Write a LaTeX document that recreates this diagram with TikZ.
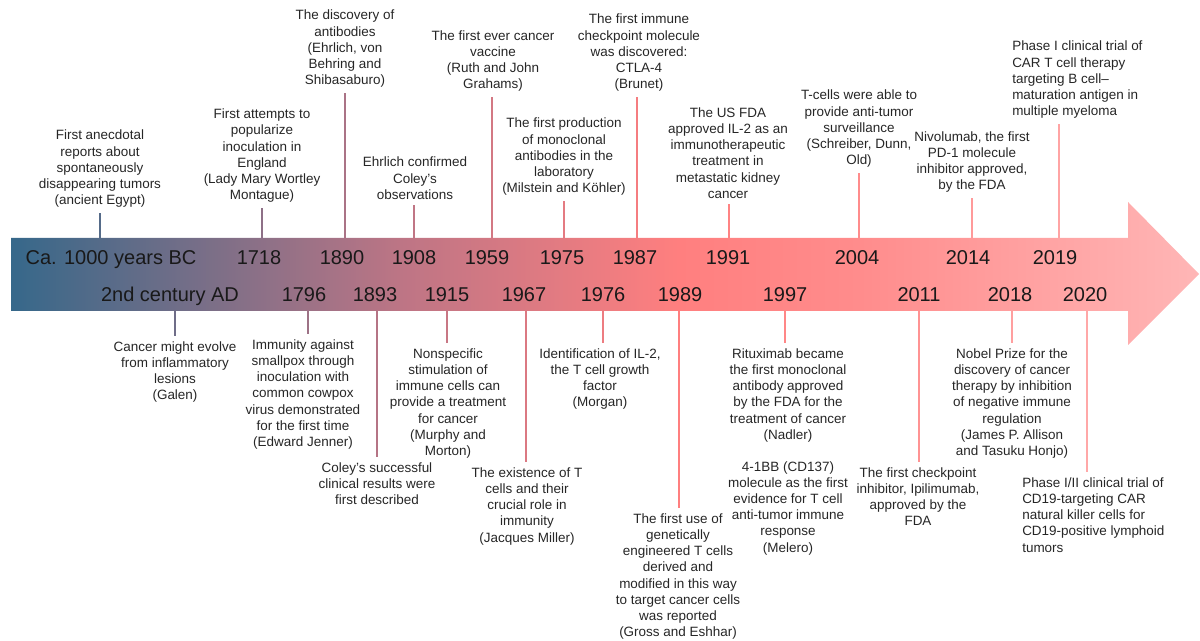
\documentclass[tikz,border=0pt]{standalone}
\usepackage{fontspec}
\setmainfont{Liberation Sans}
\usetikzlibrary{positioning}

\definecolor{tlA}{HTML}{36688A}
\definecolor{tlB}{HTML}{BD7585}
\definecolor{tlC}{HTML}{FF7F7F}
\definecolor{tlD}{HTML}{FF8C8C}
\definecolor{tlE}{HTML}{FFB6B6}
\pgfdeclarehorizontalshading{timeshade}{100bp}{color(0bp)=(tlA); color(25bp)=(tlA); color(41.4bp)=(tlB); color(53.1bp)=(tlC); color(60.7bp)=(tlD); color(75bp)=(tlE); color(100bp)=(tlE)}

\begin{document}
\begin{tikzpicture}[x=0.75pt, y=-0.75pt,
    ev/.style={align=center, font=\fontsize{10.1}{12.15}\selectfont, text=black!85, inner xsep=0pt, inner ysep=4pt},
    yr/.style={font=\fontsize{15}{18}\selectfont, text=black!90, inner sep=0pt, anchor=base},
    tick/.style={line width=2pt}]
            \useasboundingbox (0,0) rectangle (1200,641);

            % the time arrow
            \path[shading=timeshade] (11,238) -- (1128,238) -- (1128,202) -- (1199,274) -- (1128,345) -- (1128,311) -- (11,311) -- cycle;

            % years, upper row
            \node[yr] (yBC) at (111,265) {Ca. 1000 years BC};
            \node[yr] (y1718) at (259,265) {1718};
            \node[yr] (y1890) at (342,265) {1890};
            \node[yr] (y1908) at (414,265) {1908};
            \node[yr] (y1959) at (487,265) {1959};
            \node[yr] (y1975) at (562,265) {1975};
            \node[yr] (y1987) at (635,265) {1987};
            \node[yr] (y1991) at (728,265) {1991};
            \node[yr] (y2004) at (857,265) {2004};
            \node[yr] (y2014) at (968,265) {2014};
            \node[yr] (y2019) at (1055,265) {2019};

            % years, lower row
            \node[yr] (yAD) at (170,302) {2nd century AD};
            \node[yr] (y1796) at (304,302) {1796};
            \node[yr] (y1893) at (375,302) {1893};
            \node[yr] (y1915) at (447,302) {1915};
            \node[yr] (y1967) at (524,302) {1967};
            \node[yr] (y1976) at (603,302) {1976};
            \node[yr] (y1989) at (680,302) {1989};
            \node[yr] (y1997) at (785,302) {1997};
            \node[yr] (y2011) at (919,302) {2011};
            \node[yr] (y2018) at (1010,302) {2018};
            \node[yr] (y2020) at (1085,302) {2020};

            % events above the arrow
            \node[ev, anchor=south] (eBC) at (100,213) {First anecdotal\\reports about\\spontaneously\\disappearing tumors\\(ancient Egypt)};
            \node[ev, anchor=south] (e1718) at (262,208) {First attempts to\\popularize\\inoculation in\\England\\(Lady Mary Wortley\\Montague)};
            \node[ev, anchor=south] (e1890) at (345,93) {The discovery of\\antibodies\\(Ehrlich, von\\Behring and\\Shibasaburo)};
            \node[ev, anchor=south] (e1908) at (415,205) {Ehrlich confirmed\\Coley’s\\observations};
            \node[ev, anchor=south] (e1959) at (493,97) {The first ever cancer\\vaccine\\(Ruth and John\\Grahams)};
            \node[ev, anchor=south] (e1975) at (564,201) {The first production\\of monoclonal\\antibodies in the\\laboratory\\(Milstein and Köhler)};
            \node[ev, anchor=south] (e1987) at (639,97) {The first immune\\checkpoint molecule\\was discovered:\\CTLA-4\\(Brunet)};
            \node[ev, anchor=south] (e1991) at (728,204) {The US FDA\\approved IL-2 as an\\immunotherapeutic\\treatment in\\metastatic kidney\\cancer};
            \node[ev, anchor=south] (e2004) at (859,173) {T-cells were able to\\provide anti-tumor\\surveillance\\(Schreiber, Dunn,\\Old)};
            \node[ev, anchor=south] (e2014) at (972,198) {Nivolumab, the first\\PD-1 molecule\\inhibitor approved,\\by the FDA};
            \node[ev, anchor=south west, align=left] (e2019) at (1012,124) {Phase I clinical trial of\\CAR T cell therapy\\targeting B cell–\\maturation antigen in\\multiple myeloma};

            % events below the arrow
            \node[ev, anchor=north] (eAD) at (175,336) {Cancer might evolve\\from inflammatory\\lesions\\(Galen)};
            \node[ev, anchor=north] (e1796) at (303,334) {Immunity against\\smallpox through\\inoculation with\\common cowpox\\virus demonstrated\\for the first time\\(Edward Jenner)};
            \node[ev, anchor=north] (e1893) at (377,457) {Coley’s successful\\clinical results were\\first described};
            \node[ev, anchor=north] (e1915) at (448,343) {Nonspecific\\stimulation of\\immune cells can\\provide a treatment\\for cancer\\(Murphy and\\Morton)};
            \node[ev, anchor=north] (e1967) at (527,462) {The existence of T\\cells and their\\crucial role in\\immunity\\(Jacques Miller)};
            \node[ev, anchor=north] (e1976) at (600,343) {Identification of IL-2,\\the T cell growth\\factor\\(Morgan)};
            \node[ev, anchor=north] (e1989) at (678,508) {The first use of\\genetically\\engineered T cells\\derived and\\modified in this way\\to target cancer cells\\was reported\\(Gross and Eshhar)};
            \node[ev, anchor=north] (e1997) at (788,343) {Rituximab became\\the first monoclonal\\antibody approved\\by the FDA for the\\treatment of cancer\\(Nadler)};
            \node[ev, below=6pt of e1997] (e1997b) {4-1BB (CD137)\\molecule as the first\\evidence for T cell\\anti-tumor immune\\response\\(Melero)};
            \node[ev, anchor=north] (e2011) at (918,462) {The first checkpoint\\inhibitor, Ipilimumab,\\approved by the\\FDA};
            \node[ev, anchor=north] (e2018) at (1012,343) {Nobel Prize for the\\discovery of cancer\\therapy by inhibition\\of negative immune\\regulation\\(James P. Allison\\and Tasuku Honjo)};
            \node[ev, anchor=north west, align=left] (e2020) at (1022,472) {Phase I/II clinical trial of\\CD19-targeting CAR\\natural killer cells for\\CD19-positive lymphoid\\tumors};

            % tick feet on the arrow edges
            \coordinate (cBC) at (100,238);
            \coordinate (c1718) at (262,238);
            \coordinate (c1890) at (345,238);
            \coordinate (c1908) at (414,238);
            \coordinate (c1959) at (492,238);
            \coordinate (c1975) at (564,238);
            \coordinate (c1987) at (637,238);
            \coordinate (c1991) at (729,238);
            \coordinate (c2004) at (859,238);
            \coordinate (c2014) at (972,238);
            \coordinate (c2019) at (1059,238);

            \coordinate (cAD) at (175,311);
            \coordinate (c1796) at (308,311);
            \coordinate (c1893) at (377,311);
            \coordinate (c1915) at (447,311);
            \coordinate (c1967) at (526,311);
            \coordinate (c1976) at (603,311);
            \coordinate (c1989) at (679,311);
            \coordinate (c1997) at (785,311);
            \coordinate (c2011) at (919,311);
            \coordinate (c2018) at (1012,311);
            \coordinate (c2020) at (1087,311);

            % Connections: arrow to events
            \draw[tick, tlB!23!tlA] (cBC) -- (cBC |- eBC.south);
            \draw[tick, tlB!65!tlA] (c1718) -- (c1718 |- e1718.south);
            \draw[tick, tlB!86!tlA] (c1890) -- (c1890 |- e1890.south);
            \draw[tick, tlC!5!tlB] (c1908) -- (c1908 |- e1908.south);
            \draw[tick, tlC!33!tlB] (c1959) -- (c1959 |- e1959.south);
            \draw[tick, tlC!59!tlB] (c1975) -- (c1975 |- e1975.south);
            \draw[tick, tlC!85!tlB] (c1987) -- (c1987 |- e1987.south);
            \draw[tick, tlD!27!tlC] (c1991) -- (c1991 |- e1991.south);
            \draw[tick, tlD] (c2004) -- (c2004 |- e2004.south);
            \draw[tick, tlE!33!tlD] (c2014) -- (c2014 |- e2014.south);
            \draw[tick, tlE!58!tlD] (c2019) -- (c2019 |- e2019.south);

            \draw[tick, tlB!42!tlA] (cAD) -- (cAD |- eAD.north);
            \draw[tick, tlB!76!tlA] (c1796) -- (c1796 |- e1796.north);
            \draw[tick, tlB!94!tlA] (c1893) -- (c1893 |- e1893.north);
            \draw[tick, tlC!17!tlB] (c1915) -- (c1915 |- e1915.north);
            \draw[tick, tlC!45!tlB] (c1967) -- (c1967 |- e1967.north);
            \draw[tick, tlC!72!tlB] (c1976) -- (c1976 |- e1976.north);
            \draw[tick, tlC] (c1989) -- (c1989 |- e1989.north);
            \draw[tick, tlD!58!tlC] (c1997) -- (c1997 |- e1997.north);
            \draw[tick, tlE!17!tlD] (c2011) -- (c2011 |- e2011.north);
            \draw[tick, tlE!45!tlD] (c2018) -- (c2018 |- e2018.north);
            \draw[tick, tlE!67!tlD] (c2020) -- (c2020 |- e2020.north);
\end{tikzpicture}
\end{document}
